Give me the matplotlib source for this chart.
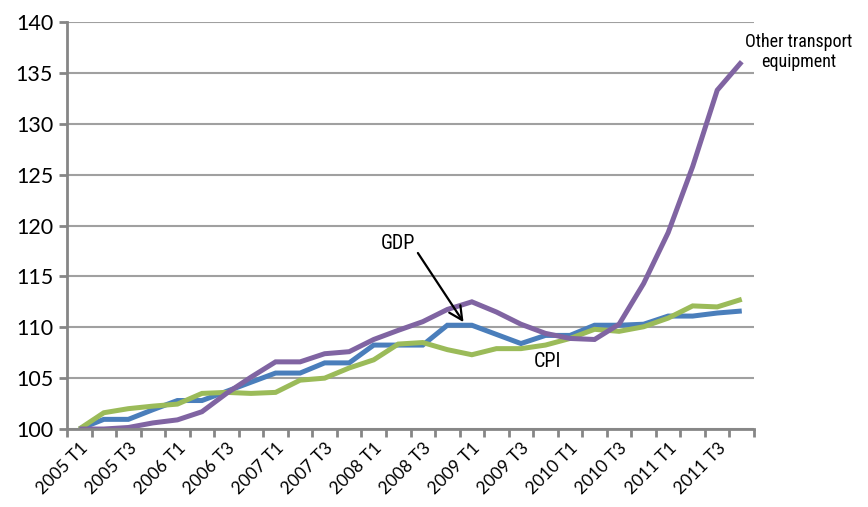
import numpy as np
import matplotlib.pyplot as plt

# quarterly index values, 2005 T1 = 100
quarters = [f'{y} T{q}' for y in range(2005, 2012) for q in range(1, 5)]
gdp = [100.0, 100.95, 100.95, 101.9, 102.8, 102.8, 103.7, 104.6, 105.5, 105.5,
       106.5, 106.5, 108.25, 108.25, 108.25, 110.2, 110.2, 109.3, 108.4, 109.2,
       109.2, 110.2, 110.2, 110.3, 111.1, 111.1, 111.4, 111.6]
cpi = [100.0, 101.6, 102.0, 102.25, 102.45, 103.5, 103.6, 103.5, 103.6, 104.8,
       105.0, 106.0, 106.8, 108.35, 108.5, 107.8, 107.3, 107.9, 107.9, 108.25,
       108.9, 109.8, 109.6, 110.05, 110.9, 112.1, 112.0, 112.75]
other_transport = [100.0, 100.0, 100.15, 100.6, 100.9, 101.7, 103.5, 105.1, 106.6, 106.6,
                   107.4, 107.6, 108.8, 109.7, 110.55, 111.75, 112.5, 111.5, 110.3, 109.4,
                   108.9, 108.8, 110.3, 114.3, 119.3, 125.8, 133.3, 136.1]

blue = '#4a7ebb'
green = '#9bbb59'
purple = '#8064a2'
axis_grey = '#868686'

fig = plt.figure(figsize=(8.68, 5.07), dpi=100)
ax = fig.add_axes([0.0772, 0.1538, 0.7915, 0.8028])

x = np.arange(len(quarters))
for series, colour in [(gdp, blue), (cpi, green), (other_transport, purple)]:
    ax.plot(x, series, color=colour, lw=3.6, solid_joinstyle='miter',
            solid_capstyle='butt', zorder=3)

ax.set_xlim(-0.5, len(quarters) - 0.5)
ax.set_ylim(100, 140)
ax.set_yticks(np.arange(100, 141, 5))
ax.yaxis.grid(True, color='#a0a0a0', lw=1.5)
ax.set_axisbelow(True)

# category boundaries get the tick marks, every second quarter gets a label
ax.set_xticks(np.arange(-0.5, len(quarters)), labels=[])
ax.set_xticks(x[::2], labels=quarters[::2], minor=True)
ax.tick_params(axis='x', which='major', length=6, width=2, color=axis_grey, direction='out')
ax.tick_params(axis='x', which='minor', length=0, pad=8)
ax.tick_params(axis='y', length=6, width=2, color=axis_grey, direction='out', pad=4)
plt.setp(ax.get_xticklabels(minor=True), rotation=45, ha='right', rotation_mode='anchor',
         fontsize=12.5, family=['Lato', 'DejaVu Sans'])
plt.setp(ax.get_yticklabels(), fontsize=15.5, family=['Lato', 'DejaVu Sans'])

for side in ['top', 'right']:
    ax.spines[side].set_visible(False)
for side in ['left', 'bottom']:
    ax.spines[side].set_color(axis_grey)
    ax.spines[side].set_linewidth(2)
    ax.spines[side].set_zorder(4)

narrow = ['Liberation Sans Narrow', 'Roboto Condensed', 'Roboto', 'DejaVu Sans']
ax.text(13.0, 118.2, 'GDP', ha='center', va='center', fontsize=14.5,
        family=narrow, stretch='condensed')
ax.annotate('', xy=(15.66, 110.5), xytext=(13.8, 117.3),
            arrowprops=dict(arrowstyle='->', color='black', lw=1.6,
                            shrinkA=0, shrinkB=0, mutation_scale=24))
ax.text(19.1, 106.6, 'CPI', ha='center', va='center', fontsize=14.5,
        family=narrow, stretch='condensed')
ax.text(29.3, 137.05, 'Other transport\nequipment', ha='center', va='center', fontsize=13,
        family=narrow, stretch='condensed', linespacing=1.15, clip_on=False)

fig.savefig('out.png', dpi=100)
